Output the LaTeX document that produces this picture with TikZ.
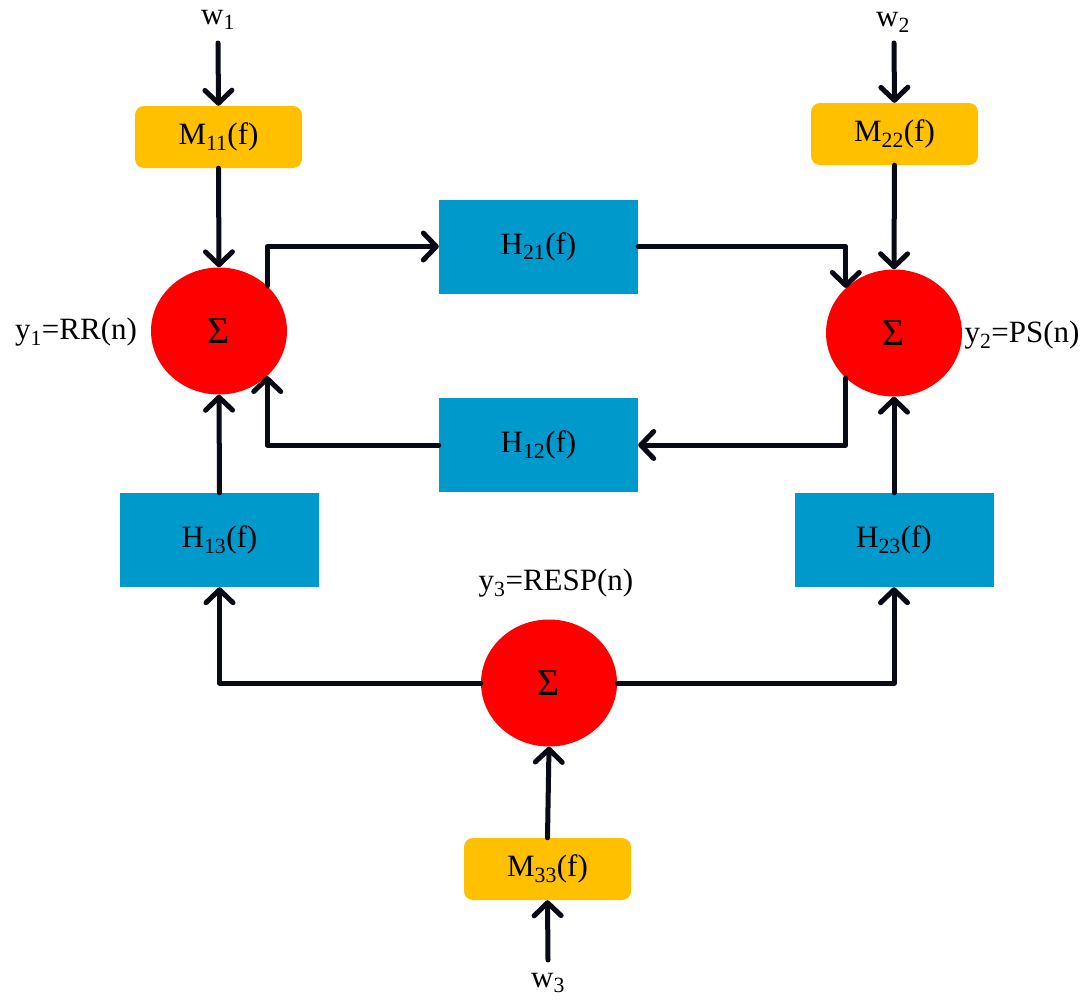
\documentclass[tikz,border=0pt]{standalone}
\usepackage{fontspec}
\setmainfont{Liberation Serif}
\usetikzlibrary{arrows.meta,shapes.geometric}
\definecolor{myred}{RGB}{255,0,0}
\definecolor{myblue}{RGB}{0,153,204}
\definecolor{myyellow}{RGB}{255,192,0}
\definecolor{myline}{RGB}{8,10,22}
\begin{document}
\begin{tikzpicture}[x=1pt,y=-1pt,
  every node/.style={font=\fontsize{31}{34}\selectfont, text=black},
  ybox/.style={fill=myyellow, rounded corners=9pt, minimum width=167pt, minimum height=62pt, inner sep=0pt},
  bbox/.style={fill=myblue, minimum width=199pt, minimum height=94pt, inner sep=0pt},
  sumnode/.style={ellipse, fill=myred, minimum width=136pt, minimum height=127pt, inner sep=0pt, font=\fontsize{38}{40}\selectfont},
  lbl/.style={inner sep=0pt},
  arr/.style={draw=myline, line width=5pt, line cap=round, line join=round,
     -{Straight Barb[length=13pt,width=27pt,line cap=round,line join=round]}}
]
\useasboundingbox (0,0) rectangle (1085,1004);

% nodes
\node[ybox] (m11) at (218.5,137) {M\textsubscript{11}(f)};
\node[ybox] (m22) at (894.5,134) {M\textsubscript{22}(f)};
\node[ybox] (m33) at (547.5,869) {M\textsubscript{33}(f)};

\node[sumnode] (s1) at (219,331) {Σ};
\node[sumnode] (s2) at (894,333) {Σ};
\node[sumnode] (s3) at (549,683) {Σ};

\node[bbox] (h21) at (538.5,246.5) {H\textsubscript{21}(f)};
\node[bbox] (h12) at (538.5,445) {H\textsubscript{12}(f)};
\node[bbox] (h13) at (219.5,540) {H\textsubscript{13}(f)};
\node[bbox] (h23) at (894,540) {H\textsubscript{23}(f)};

\node[lbl] (w1) at (218,20) {w\textsubscript{1}};
\node[lbl] (w2) at (893,22) {w\textsubscript{2}};
\node[lbl] (w3) at (548,983) {w\textsubscript{3}};

\node[lbl] (l1) at (76,332) {y\textsubscript{1}=RR(n)};
\node[lbl] (l2) at (1022,335) {y\textsubscript{2}=PS(n)};
\node[lbl] (l3) at (556,583) {y\textsubscript{3}=RESP(n)};

\coordinate (w1e) at (218,43);
\coordinate (w2e) at (894,43);
\coordinate (w3e) at (548,960);

% connectors
\draw[arr] (w1e) -- (m11.north);
\draw[arr] (w2e) -- (m22.north);
\draw[arr] (w3e) -- (m33.south);
\draw[arr] (m11.south) -- (s1.north);
\draw[arr] (m22.south) -- (s2.north);
\draw[arr] (m33.north) -- (s3.south);

\draw[arr] (s1.north east) |- (h21.west);
\draw[arr] (h21.east) -| (s2.north west);
\draw[arr] (s2.south west) |- (h12.east);
\draw[arr] (h12.west) -| (s1.south east);

\draw[arr] (h13.north) -- (s1.south);
\draw[arr] (h23.north) -- (s2.south);
\draw[arr] (s3.west) -| (h13.south);
\draw[arr] (s3.east) -| (h23.south);
\end{tikzpicture}
\end{document}
